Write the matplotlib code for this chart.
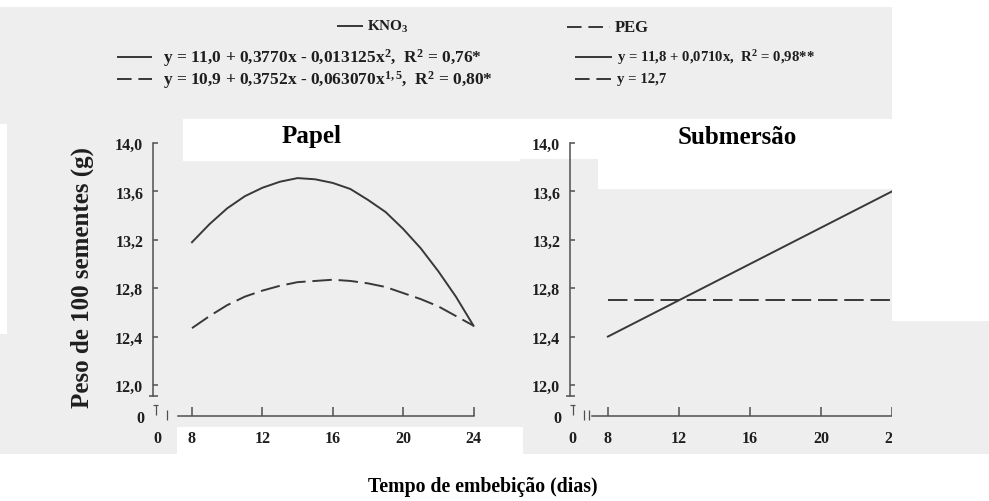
import matplotlib
matplotlib.use("Agg")
import matplotlib.pyplot as plt
from matplotlib.patches import Rectangle
from matplotlib.lines import Line2D

# ---- data ---------------------------------------------------------------
dias_papel = [8, 9, 10, 11, 12, 13, 14, 15, 16, 17, 18, 19, 20, 21, 22, 23, 24]
papel_kno3 = [13.18, 13.33, 13.46, 13.56, 13.63, 13.68, 13.71, 13.70, 13.67,
              13.62, 13.53, 13.43, 13.29, 13.13, 12.94, 12.73, 12.49]
papel_peg = [12.47, 12.57, 12.66, 12.73, 12.78, 12.82, 12.85, 12.86, 12.87,
             12.86, 12.84, 12.81, 12.76, 12.71, 12.65, 12.57, 12.49]
dias_sub = [8, 24]
sub_kno3 = [12.40, 13.60]
sub_peg = [12.70, 12.70]

y_ticks = [12.0, 12.4, 12.8, 13.2, 13.6, 14.0]
y_tick_labels = ["12,0", "12,4", "12,8", "13,2", "13,6", "14,0"]
x_ticks = [8, 12, 16, 20, 24]
x_tick_labels = ["8", "12", "16", "20", "24"]

panel_titles = ["Papel", "Submersão"]
legend_header = ["KNO$_3$", "PEG"]
eq_papel = ["y = 11,0 + 0,3770x - 0,013125x$^2$,  R$^2$ = 0,76*",
            "y = 10,9 + 0,3752x - 0,063070x$^{1,5}$,  R$^2$ = 0,80*"]
eq_sub = ["y = 11,8 + 0,0710x,  R$^2$ = 0,98**",
          "y = 12,7"]
y_label = "Peso de 100 sementes (g)"
x_label = "Tempo de embebição (dias)"

# ---- style --------------------------------------------------------------
plt.rcParams["font.family"] = ["Liberation Serif", "DejaVu Serif"]
plt.rcParams["font.weight"] = "bold"
plt.rcParams["mathtext.fontset"] = "custom"
plt.rcParams["mathtext.rm"] = "Liberation Serif:bold"
plt.rcParams["mathtext.it"] = "Liberation Serif:bold:italic"
plt.rcParams["mathtext.bf"] = "Liberation Serif:bold"

W, H, DPI = 989, 502, 100
PAPER = "#eeeeee"
LINE = "#383838"
AXIS = "#505050"
TXT = "#1e1e1e"
DASH = (0, (10, 3.5))
DASH_KEY = (0, (7.5, 3.5))
TICK_FS = 11.5

fig = plt.figure(figsize=(W / DPI, H / DPI), dpi=DPI, facecolor=PAPER)


def fx(px):
    return px / W


def fy(py):
    return 1 - py / H


def sheet(x0, y0, x1, y1, color="white", z=-5):
    fig.add_artist(Rectangle((fx(x0), fy(y1)), fx(x1) - fx(x0), fy(y0) - fy(y1),
                             transform=fig.transFigure, facecolor=color,
                             edgecolor="none", zorder=z))


def stroke(xs, ys, lw=1.1, color=AXIS, ls="-", z=3):
    fig.add_artist(Line2D([fx(v) for v in xs], [fy(v) for v in ys],
                          transform=fig.transFigure, color=color, lw=lw,
                          ls=ls, zorder=z, solid_capstyle="butt"))


def span(p_lo, p_hi, pa, va, pb, vb):
    s = (pb - pa) / (vb - va)
    return va + (p_lo - pa) / s, va + (p_hi - pa) / s


# paper tone of the printed page
sheet(0, 0, W, 8)
sheet(0, 125, 7, 335)
sheet(183, 120, 520, 162)
sheet(520, 120, 598, 160)
sheet(598, 120, 892, 190)
sheet(177, 428, 523, 455)
sheet(0, 455, W, H)

# ---- panels -------------------------------------------------------------
TOP, BOT = 140, 420
Y12, Y14 = 386, 144
Y_ZERO, Y_CAP = 417, 397
panels = [
    dict(l=153, r=480, p8=192, p24=473.5, start=178, zero=157, title=312,
         x=dias_papel, kno3=papel_kno3, peg=papel_peg),
    dict(l=570, r=892, p8=608, p24=893, start=592, zero=572, title=737,
         x=dias_sub, kno3=sub_kno3, peg=sub_peg),
]

for i, p in enumerate(panels):
    ax = fig.add_axes([fx(p["l"]), fy(BOT), fx(p["r"]) - fx(p["l"]),
                       fy(TOP) - fy(BOT)])
    ax.set_facecolor("none")
    xlo, xhi = span(p["l"], p["r"], p["p8"], 8, p["p24"], 24)
    ylo, yhi = span(BOT, TOP, Y12, 12.0, Y14, 14.0)
    ax.set_xlim(xlo, xhi)
    ax.set_ylim(ylo, yhi)

    ax.plot(p["x"], p["kno3"], color=LINE, lw=1.4)
    ax.plot(p["x"], p["peg"], color=LINE, lw=1.4, ls=DASH)

    y0 = span(Y_ZERO, Y_ZERO, Y12, 12.0, Y14, 14.0)[0]
    ycap = span(Y_CAP, Y_CAP, Y12, 12.0, Y14, 14.0)[0]
    xstart = span(p["start"], p["start"], p["p8"], 8, p["p24"], 24)[0]
    xzero = span(p["zero"], p["zero"], p["p8"], 8, p["p24"], 24)[0]

    for s in ("top", "right"):
        ax.spines[s].set_visible(False)
    for s in ("left", "bottom"):
        ax.spines[s].set_color(AXIS)
        ax.spines[s].set_linewidth(1.1)
    ax.spines["left"].set_bounds(ycap, 14.0)
    ax.spines["bottom"].set_position(("data", y0))
    ax.spines["bottom"].set_bounds(xstart, 24)

    ax.set_yticks(y_ticks, y_tick_labels)
    ax.set_xticks(x_ticks, x_tick_labels)
    ax.set_yticks([y0], ["0"], minor=True)
    ax.set_xticks([xzero], ["0"], minor=True)
    ax.tick_params(axis="y", which="major", direction="in", length=3.6,
                   width=1.1, color=AXIS, pad=7, labelsize=TICK_FS,
                   labelcolor=TXT)
    ax.tick_params(axis="x", which="major", direction="in", length=6.5,
                   width=1.1, color=AXIS, pad=10, labelsize=TICK_FS,
                   labelcolor=TXT)
    ax.tick_params(axis="y", which="minor", length=0, pad=6,
                   labelsize=TICK_FS, labelcolor=TXT)
    ax.tick_params(axis="x", which="minor", length=0, pad=10,
                   labelsize=TICK_FS, labelcolor=TXT)

    # axis break marks near the origin
    X = p["l"]
    stroke([X - 4, X + 5], [Y_CAP, Y_CAP])
    stroke([X, X + 5], [406, 406], lw=0.9)
    stroke([X + 3, X + 3], [406, 416], lw=0.9)
    stroke([X + 14, X + 14], [411, 421], lw=0.9)
    if i == 1:
        stroke([X + 19, X + 19], [411, 421], lw=0.9)

    fig.text(fx(p["title"]), fy(137), panel_titles[i], ha="center",
             va="center", fontsize=18, color="black")

# right edge of the sheet trims the second panel
sheet(892, 0, W, 322, z=6)
sheet(892, 322, W, 455, color=PAPER, z=6)

# ---- legend -------------------------------------------------------------
stroke([337, 363], [27, 27], lw=1.4, color=LINE)
fig.text(fx(367), fy(27), legend_header[0], ha="left", va="center",
         fontsize=11, color=TXT)
stroke([567, 610], [28, 28], lw=1.4, color=LINE, ls=DASH_KEY)
fig.text(fx(615), fy(28), legend_header[1], ha="left", va="center",
         fontsize=12, color=TXT)

stroke([117, 152], [58, 58], lw=1.4, color=LINE)
fig.text(fx(163), fy(58), eq_papel[0], ha="left", va="center",
         fontsize=12.5, color=TXT)
stroke([117, 152], [80, 80], lw=1.4, color=LINE, ls=DASH_KEY)
fig.text(fx(163), fy(80), eq_papel[1], ha="left", va="center",
         fontsize=12.5, color=TXT)

stroke([575, 612], [58, 58], lw=1.4, color=LINE)
fig.text(fx(617), fy(58), eq_sub[0], ha="left", va="center",
         fontsize=10.6, color=TXT)
stroke([575, 612], [80, 80], lw=1.4, color=LINE, ls=DASH_KEY)
fig.text(fx(617), fy(80), eq_sub[1], ha="left", va="center",
         fontsize=10.6, color=TXT)

# ---- axis titles --------------------------------------------------------
fig.text(fx(82), fy(278), y_label, rotation=90, ha="center", va="center",
         fontsize=18, color=TXT)
fig.text(fx(483), fy(487), x_label, ha="center", va="center",
         fontsize=14.2, color="black")

fig.savefig("out.png", dpi=DPI)
